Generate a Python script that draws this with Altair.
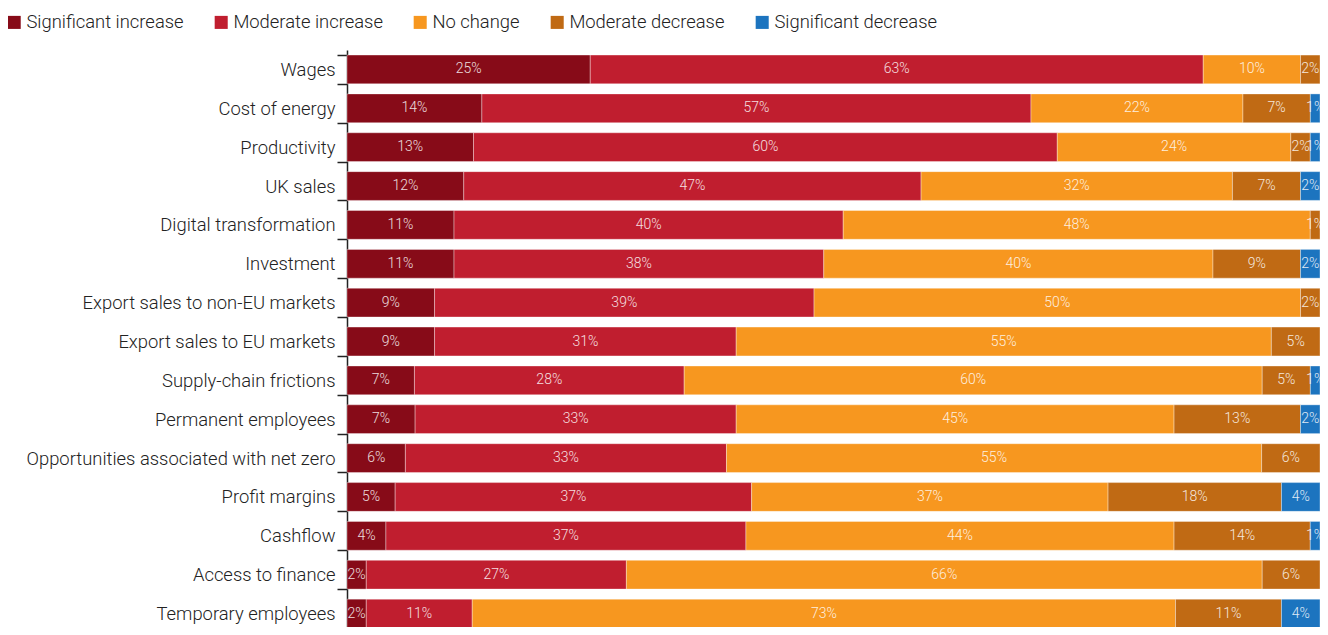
import altair as alt
import pandas as pd

categories = [
    "Wages", "Cost of energy", "Productivity", "UK sales", "Digital transformation",
    "Investment", "Export sales to non-EU markets", "Export sales to EU markets",
    "Supply-chain frictions", "Permanent employees",
    "Opportunities associated with net zero", "Profit margins", "Cashflow",
    "Access to finance", "Temporary employees",
]
statuses = ["Significant increase", "Moderate increase", "No change",
            "Moderate decrease", "Significant decrease"]
colors = ["#870B18", "#C01E2F", "#F7971F", "#C06A14", "#1C74BF"]

sig_inc = [25, 14, 13, 12, 11, 11, 9, 9, 7, 7, 6, 5, 4, 2, 2]
mod_inc = [63, 57, 60, 47, 40, 38, 39, 31, 28, 33, 33, 37, 37, 27, 11]
no_chg = [10, 22, 24, 32, 48, 40, 50, 55, 60, 45, 55, 37, 44, 66, 73]
mod_dec = [2, 7, 2, 7, 1, 9, 2, 5, 5, 13, 6, 18, 14, 6, 11]
sig_dec = [0, 1, 1, 2, 0, 2, 0, 0, 1, 2, 0, 4, 1, 0, 4]

series = [sig_inc, mod_inc, no_chg, mod_dec, sig_dec]
rows = []
for ci, cat in enumerate(categories):
    for si, st in enumerate(statuses):
        v = series[si][ci]
        if v > 0:
            rows.append({"category": cat, "status": st, "order": si,
                         "value": v, "label": f"{v}%"})
df = pd.DataFrame(rows)

base = (
    alt.Chart(df)
    .transform_joinaggregate(total="sum(value)", groupby=["category"])
    .transform_calculate(pct="datum.value / datum.total")
    .transform_stack(stack="pct", groupby=["category"], as_=["x0", "x1"],
                     sort=[alt.SortField("order", order="ascending")])
    .transform_calculate(mid="(datum.x0 + datum.x1) / 2")
)

yenc = alt.Y(
    "category:N", sort=categories, title=None,
    scale=alt.Scale(paddingInner=0.26, paddingOuter=0.13, range=[0, 583]),
    axis=alt.Axis(tickBand="extent", labelFontSize=18.4, labelFont="Roboto",
                  labelFontWeight=300, labelColor="#222222", domainColor="#222222",
                  tickColor="#222222", tickSize=10, labelPadding=2, labelLimit=400,
                  domainWidth=1.5, tickWidth=1.5),
)

bars = base.mark_bar(stroke="white", strokeWidth=1, strokeOpacity=0.35).encode(
    x=alt.X("x0:Q", scale=alt.Scale(domain=[0, 1], nice=False, zero=False), axis=None),
    x2="x1:Q",
    y=yenc,
    color=alt.Color(
        "status:N", scale=alt.Scale(domain=statuses, range=colors), sort=statuses,
        legend=alt.Legend(
            title=None, orient="none", direction="horizontal", legendX=-342, legendY=-37,
            symbolType="square", symbolSize=170, symbolStrokeWidth=0, labelFontSize=18.4,
            labelFont="Roboto", labelFontWeight=300, labelColor="#222222",
            columnPadding=28, labelOffset=3, padding=0, labelLimit=300,
        ),
    ),
)

text = base.mark_text(fontSize=14, font="Roboto", fontWeight=300, color="white",
                      opacity=0.85, clip=True).encode(
    x=alt.X("mid:Q", scale=alt.Scale(domain=[0, 1], nice=False, zero=False)),
    y=alt.Y("category:N", sort=categories),
    text="label:N",
)

chart = (
    alt.layer(bars, text)
    .properties(
        width=973, height=577,
        autosize=alt.AutoSizeParams(type="none"),
        padding={"left": 339, "top": 42, "right": 0, "bottom": 0},
    )
    .configure_view(stroke=None)
)

chart.save("out.html", embed_options={"renderer": "svg", "actions": False})
